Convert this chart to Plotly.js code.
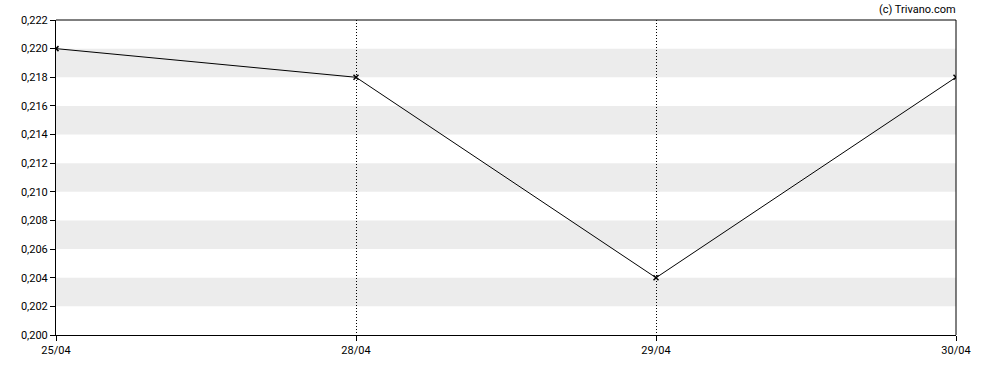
<!DOCTYPE html>
<html><head><meta charset="utf-8">
<script src="https://cdn.plot.ly/plotly-3.0.1.min.js"></script>
<style>body{margin:0;padding:0;background:#fff}#c{width:988px;height:370px}</style>
</head><body><div id="c"></div>
<script>
const dates = ["25/04", "28/04", "29/04", "30/04"];
const prices = [0.220, 0.218, 0.204, 0.218];
const bandStarts = [0.202, 0.206, 0.210, 0.214, 0.218];
const bandWidth = 0.002;

const shapes = bandStarts.map(b => ({
  type: 'rect', xref: 'paper', yref: 'y', x0: 0, x1: 1, y0: b, y1: b + bandWidth,
  fillcolor: '#ececec', line: {width: 0}, layer: 'below'
}));
shapes.push({type:'line', xref:'paper', yref:'paper', x0:0, x1:1, y0:1, y1:1, line:{color:'#000', width:1}});
shapes.push({type:'line', xref:'paper', yref:'paper', x0:1, x1:1, y0:0, y1:1, line:{color:'#000', width:1}});

Plotly.newPlot('c', [{
  x: dates, y: prices, type: 'scatter', mode: 'lines+markers',
  line: {color: '#000', width: 1},
  marker: {symbol: 'x-thin', size: 5, color: '#000', line: {color: '#000', width: 1.5}},
  hoverinfo: 'none'
}], {
  width: 988, height: 370,
  margin: {l: 56, r: 32, t: 20, b: 35},
  paper_bgcolor: '#fff', plot_bgcolor: '#fff',
  separators: ',.',
  font: {family: 'Roboto, Arial, sans-serif', size: 11, color: '#000'},
  showlegend: false,
  xaxis: {
    type: 'category', range: [0, 3], showgrid: true, gridcolor: '#000', griddash: '1px,2px', gridwidth: 1,
    showline: true, linecolor: '#000', linewidth: 1, ticks: 'outside', ticklen: 5, tickcolor: '#000',
    zeroline: false, fixedrange: true
  },
  yaxis: {
    range: [0.200, 0.222], dtick: 0.002, tick0: 0.2, tickformat: '.3f', showgrid: false,
    showline: true, linecolor: '#000', linewidth: 1, ticks: 'outside', ticklen: 5, tickcolor: '#000',
    zeroline: false, fixedrange: true
  },
  shapes: shapes,
  annotations: [{
    text: '(c) Trivano.com', xref: 'paper', yref: 'paper', x: 1.002, y: 1, xanchor: 'right', yanchor: 'bottom',
    yshift: 2, showarrow: false, font: {size: 11, color: '#000'}
  }]
}, {staticPlot: true});
</script></body></html>
